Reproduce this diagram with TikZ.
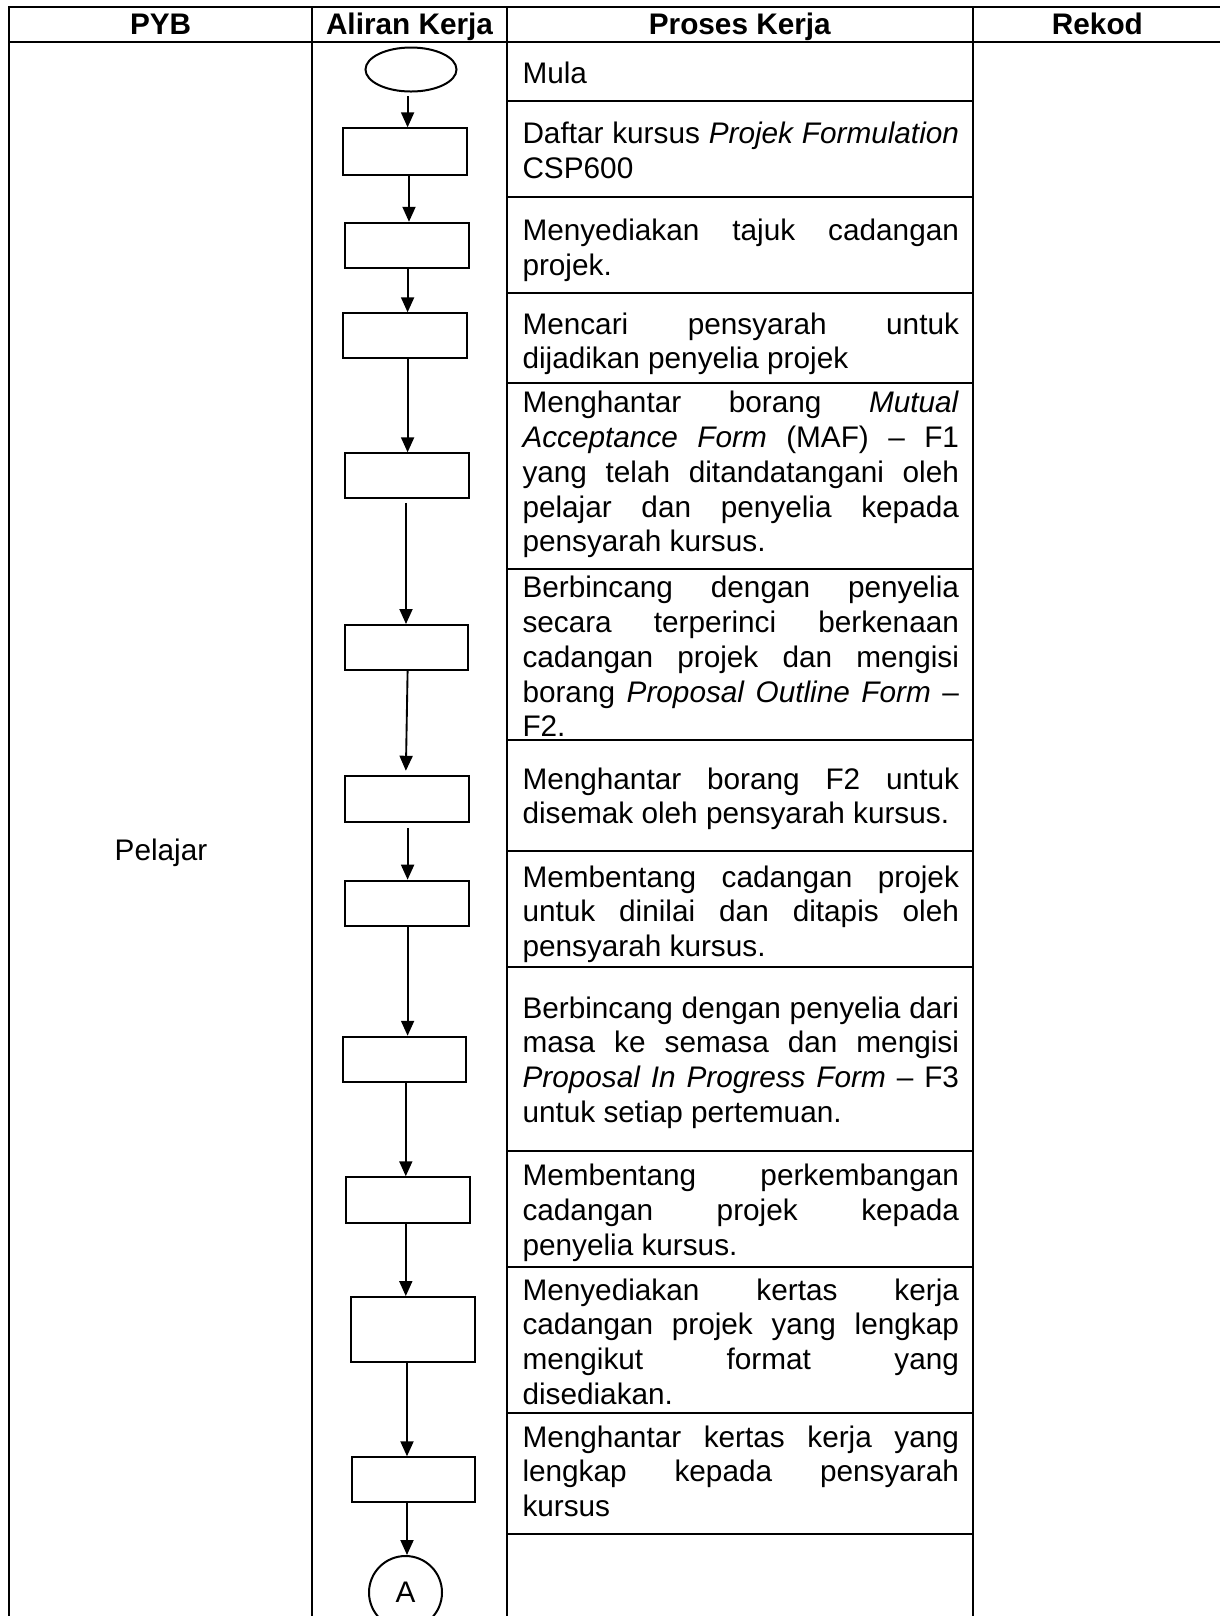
\documentclass[tikz,border=0pt]{standalone}
\usepackage{fontspec}
\setmainfont{Liberation Sans}
\usetikzlibrary{arrows.meta,shapes.geometric,calc}
\begin{document}
\begin{tikzpicture}[x=0.4pt,y=-0.4pt,
  tline/.style={line width=0.8pt,line cap=rect},
  shp/.style={draw,line width=0.8pt,inner sep=0pt},
  stepbox/.style={shp,rectangle,minimum width=49.5pt,minimum height=18pt},
  arr/.style={line width=0.75pt,-{Triangle[length=6pt,width=5.2pt]}},
  cell/.style={anchor=north west,inner sep=0pt,text width=174.6pt,align=justify,
     font=\fontsize{11.9}{13.9}\selectfont,
     execute at begin node={\tolerance=10000\hyphenpenalty=10000\noindent\strut}},
  head/.style={anchor=base,inner sep=0pt,font=\fontsize{11.9}{13.9}\selectfont\bfseries},
  plain/.style={anchor=base,inner sep=0pt,font=\fontsize{11.9}{13.9}\selectfont},
]
\useasboundingbox (0,0) rectangle (1220,1616);
\fill[white] (0,0) rectangle (1220,1616);

% table frame
\draw[tline] (9,6.7) -- (1222,6.7);
\draw[tline] (9,41.7) -- (1222,41.7);
\foreach \x in {9,312.3,506.7,972.8,1222} \draw[tline] (\x,6.7) -- (\x,1622);
\foreach \y in {101,196.7,292.7,383.3,569,740,850.7,966.7,1150.7,1266.7,1413.3,1534}
  \draw[tline] (506.7,\y) -- (972.8,\y);

% headers
\node[head] (hp) at (160.6,34.5) {PYB};
\node[head] (ha) at (409.5,34.5) {Aliran Kerja};
\node[head] (hk) at (739.8,34.5) {Proses Kerja};
\node[head] (hr) at (1097.4,34.5) {Rekod};

\node[plain] (pl) at (161,860.6) {Pelajar};

% process texts
\node[cell] (t1) at (522,58.8) {Mula};
\node[cell] (t2) at (522,118.8) {Daftar kursus \textit{Projek Formulation}\linebreak CSP600};
\node[cell] (t3) at (522,215.8) {Menyediakan tajuk cadangan\linebreak projek.};
\node[cell] (t4) at (522,309.3) {Mencari pensyarah untuk\linebreak dijadikan penyelia projek};
\node[cell] (t5) at (522,388) {Menghantar borang \textit{Mutual}\linebreak \textit{Acceptance Form} (MAF) – F1\linebreak yang telah ditandatangani oleh\linebreak pelajar dan penyelia kepada\linebreak pensyarah kursus.};
\node[cell] (t6) at (522,573) {Berbincang dengan penyelia\linebreak secara terperinci berkenaan\linebreak cadangan projek dan mengisi\linebreak borang \textit{Proposal Outline Form} –\linebreak F2.};
\node[cell] (t7) at (522,764.3) {Menghantar borang F2 untuk\linebreak disemak oleh pensyarah kursus.};
\node[cell] (t8) at (522,862.3) {Membentang cadangan projek\linebreak untuk dinilai dan ditapis oleh\linebreak pensyarah kursus.};
\node[cell] (t9) at (522,993.3) {Berbincang dengan penyelia dari\linebreak masa ke semasa dan mengisi\linebreak \textit{Proposal In Progress Form} – F3\linebreak untuk setiap pertemuan.};
\node[cell] (t10) at (522,1160.8) {Membentang perkembangan\linebreak cadangan projek kepada\linebreak penyelia kursus.};
\node[cell] (t11) at (522,1275.3) {Menyediakan kertas kerja\linebreak cadangan projek yang lengkap\linebreak mengikut format yang\linebreak disediakan.};
\node[cell] (t12) at (522,1422.3) {Menghantar kertas kerja yang\linebreak lengkap kepada pensyarah\linebreak kursus};

% flow shapes
\node[shp,ellipse,minimum width=36.4pt,minimum height=17.6pt] (st) at (411,69.5) {};
\node[stepbox,minimum height=18.7pt] (r1) at (405.2,151.7) {};
\node[stepbox,minimum height=18.2pt] (r2) at (406.9,245.5) {};
\node[stepbox] (r3) at (405,335.8) {};
\node[stepbox] (r4) at (406.7,475.8) {};
\node[stepbox] (r5) at (406.5,647.5) {};
\node[stepbox,minimum height=18.3pt] (r6) at (407.1,798.9) {};
\node[stepbox] (r7) at (406.9,903.2) {};
\node[stepbox,minimum height=18.2pt] (r8) at (404.5,1059.5) {};
\node[stepbox,minimum height=18.2pt] (r9) at (407.8,1200) {};
\node[stepbox,minimum height=25.9pt] (r10) at (413.2,1329.4) {};
\node[stepbox] (r11) at (413.4,1479.8) {};
\node[shp,circle,minimum size=29.2pt,font=\fontsize{11.9}{13.9}\selectfont] (ca) at (405.5,1592.5) {A};

% connectors
\draw[arr,shorten <=1.4pt] (st.south -| 407.6,0) -- (r1.north -| 407.6,0);
\draw[arr] (r1.south -| 409,0) -- (r2.north -| 409,0);
\draw[arr] (r2.south -| 407.6,0) -- (r3.north -| 407.6,0);
\draw[arr] (r3.south -| 407.6,0) -- (r4.north -| 407.6,0);
\draw[arr,shorten <=1.4pt] (r4.south -| 406,0) -- (r5.north -| 406,0);
\draw[arr,shorten >=1.7pt] (r5.south -| 407.6,0) -- (r6.north -| 405.8,0);
\draw[arr,shorten <=2.2pt] (r6.south -| 407.6,0) -- (r7.north -| 407.6,0);
\draw[arr] (r7.south -| 407.6,0) -- (r8.north -| 407.6,0);
\draw[arr] (r8.south -| 405.8,0) -- (r9.north -| 405.8,0);
\draw[arr] (r9.south -| 405.8,0) -- (r10.north -| 405.8,0);
\draw[arr] (r10.south -| 407,0) -- (r11.north -| 407,0);
\draw[arr] (r11.south -| 407,0) -- (ca.north -| 407,0);
\end{tikzpicture}
\end{document}
